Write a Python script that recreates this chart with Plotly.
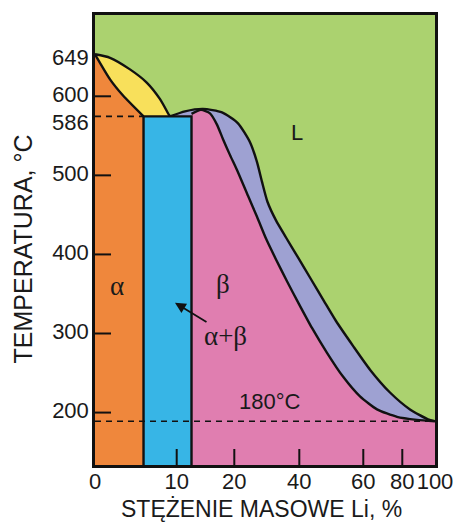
import numpy as np
import plotly.graph_objects as go

# ---- axis definitions (the diagram uses schematic, non-linear scales) ----
X_TICKS = [0, 10, 20, 40, 60, 80, 100]
X_TICK_LABELS = ["0", "10", "20", "40", "60", "80", "100"]
X_TICK_POS = [0, 24.03, 40.97, 60.09, 78.91, 90.38, 100]

Y_TICKS = [200, 300, 400, 500, 600]
Y_TICK_LABELS = ["200", "300", "400", "500", "600"]
Y_ANCHOR_T = [180, 200, 300, 400, 500, 586, 600, 649]
Y_ANCHOR_POS = [189, 200, 300, 400, 500, 574.6, 600, 653.1]
Y_RANGE = [133.7, 702.8]

# ---- characteristic temperatures (°C) ----
T_MG_MELT = 649
T_EUTECTIC = 586
T_TRANSFORM = 180

# ---- phase boundaries (mass % Li, °C) ----
alpha_limit = 5.94          # max solubility of Li in alpha
beta_limit = 12.57          # beta boundary at eutectic

alpha_solidus_x = [0, 1.84, 3.43, 5.94]
alpha_solidus_t = [649, 619.8, 600.9, 586]

alpha_liquidus_x = [0, 1.84, 4.28, 6.33, 7.96, 9.06, 9.18]
alpha_liquidus_t = [649, 644.9, 631.4, 616, 598, 587, 586]

beta_liquidus_x = [9.18, 11.44, 14.56, 17.86, 21.14, 24.83, 26.99, 28.53, 30.2, 32.83, 35.91,
                   39.60, 43.66, 47.72, 51.47, 56.78, 63.44, 73.69, 84.72, 95.72, 100]
beta_liquidus_t = [586, 589.5, 591.2, 588.8, 575.9, 548.4, 519.4, 491.7, 466.6, 443.0, 421.4,
                   396.2, 368.6, 341.0, 315.8, 284.4, 254.3, 225.4, 204.0, 184.5, 180]

beta_solidus_x = [12.57, 14.21, 15.78, 16.97, 18.04, 19.26, 20.83, 24.22, 26.99, 29.75, 32.83,
                  36.21, 39.91, 43.96, 48.66, 53.65, 58.97, 67.03, 77.28, 89.0, 100]
beta_solidus_t = [587.7, 590.5, 588.1, 574.4, 552.7, 529.5, 507.8, 474.1, 447.7, 420.1, 393.7,
                  366.1, 337.2, 307.0, 275.6, 245.5, 220.4, 204.0, 190.2, 183.3, 180]

# colours
C_L = "#abd26f"
C_ALPHA = "#ef873c"
C_ALPHA_L = "#f8e05b"
C_AB = "#37b5e6"
C_BETA = "#e07eb0"
C_BETA_L = "#9ea1d2"
C_LINE = "#111111"


def fx(v):
    return np.interp(np.asarray(v, dtype=float), X_TICKS, X_TICK_POS)


def fy(v):
    return np.interp(np.asarray(v, dtype=float), Y_ANCHOR_T, Y_ANCHOR_POS)


LW = 2.4
SPL = dict(color=C_LINE, width=LW, shape="spline", smoothing=0.6)
fig = go.Figure()

# beta + L (lavender) under the outer liquidus
fig.add_trace(go.Scatter(x=fx(beta_liquidus_x), y=fy(beta_liquidus_t), mode="lines",
                         line=SPL, fill="tozeroy", fillcolor=C_BETA_L, hoverinfo="skip"))
# alpha + L (yellow)
fig.add_trace(go.Scatter(x=fx(alpha_liquidus_x), y=fy(alpha_liquidus_t), mode="lines",
                         line=SPL, fill="tozeroy", fillcolor=C_ALPHA_L, hoverinfo="skip"))
# beta (pink)
fig.add_trace(go.Scatter(x=fx(beta_solidus_x), y=fy(beta_solidus_t), mode="lines",
                         line=SPL, fill="tozeroy", fillcolor=C_BETA, hoverinfo="skip"))
# alpha (orange)
fig.add_trace(go.Scatter(x=fx(alpha_solidus_x), y=fy(alpha_solidus_t), mode="lines",
                         line=SPL, fill="tozeroy", fillcolor=C_ALPHA, hoverinfo="skip"))
# alpha + beta (blue)
ybot = Y_RANGE[0] - 20
fig.add_trace(go.Scatter(x=fx([alpha_limit, alpha_limit, beta_limit, beta_limit]),
                         y=[ybot, float(fy(T_EUTECTIC)), float(fy(T_EUTECTIC)), ybot],
                         mode="lines", line=dict(color=C_LINE, width=LW),
                         fill="toself", fillcolor=C_AB, hoverinfo="skip"))
# dashed isotherms
fig.add_trace(go.Scatter(x=fx([0, alpha_limit]), y=fy([T_EUTECTIC, T_EUTECTIC]), mode="lines",
                         line=dict(color=C_LINE, width=1.6, dash="6px,5px"), hoverinfo="skip"))
fig.add_trace(go.Scatter(x=fx([0, 100]), y=fy([T_TRANSFORM, T_TRANSFORM]), mode="lines",
                         line=dict(color=C_LINE, width=1.6, dash="6px,5px"), hoverinfo="skip"))

SANS = "Liberation Sans, Arial, sans-serif"
SERIF = "Liberation Serif, Times New Roman, serif"
TXT = "#1a1a1a"

ann = []
# extra temperature labels on the y axis
ann.append(dict(x=0, xref="paper", xanchor="right", xshift=-4, y=float(fy(T_MG_MELT)), yref="y",
                yanchor="middle", yshift=-3, text=str(T_MG_MELT), showarrow=False,
                font=dict(family=SANS, size=22, color=TXT)))
ann.append(dict(x=0, xref="paper", xanchor="right", xshift=-4, y=float(fy(T_EUTECTIC)), yref="y",
                yanchor="middle", yshift=-6, text=str(T_EUTECTIC), showarrow=False,
                font=dict(family=SANS, size=22, color=TXT)))
# phase labels
ann.append(dict(x=float(fx(39.3)), y=float(fy(563)), text="L", showarrow=False,
                font=dict(family=SANS, size=22, color=TXT)))
ann.append(dict(x=float(fx(2.7)), y=float(fy(360)), text="α", showarrow=False,
                font=dict(family=SERIF, size=27, color=TXT)))
ann.append(dict(x=float(fx(18.0)), y=float(fy(362)), text="β", showarrow=False,
                font=dict(family=SERIF, size=27, color=TXT)))
ann.append(dict(x=float(fx(18.4)), y=float(fy(297)), text="α+β", showarrow=False,
                font=dict(family=SERIF, size=27, color=TXT)))
ann.append(dict(x=float(fx(9.79)), y=float(fy(338.8)), ax=33, ay=20, text="", showarrow=True,
                arrowhead=2, arrowsize=1.2, arrowwidth=1.8, arrowcolor=C_LINE))
ann.append(dict(x=float(fx(31)), y=float(fy(T_TRANSFORM)), yshift=20, text="180°C", showarrow=False,
                font=dict(family=SANS, size=22, color=TXT)))
# axis titles
ann.append(dict(x=0.491, xref="paper", y=-0.0975, yref="paper", xanchor="center", yanchor="middle",
                text="STĘŻENIE MASOWE Li, %", showarrow=False,
                font=dict(family=SANS, size=23, color=TXT)))
ann.append(dict(x=-0.212, xref="paper", y=0.481, yref="paper", xanchor="center", yanchor="middle",
                text="TEMPERATURA, °C", textangle=-90, showarrow=False,
                font=dict(family=SANS, size=25, color=TXT)))

# inside tick marks (drawn above the coloured phase fields)
shapes = []
for p in X_TICK_POS[1:-1]:
    shapes.append(dict(type="line", xref="x", x0=p, x1=p, yref="paper", ysizemode="pixel",
                       yanchor=0, y0=0, y1=16, line=dict(color=C_LINE, width=2), layer="above"))
for t in Y_TICKS:
    shapes.append(dict(type="line", yref="y", y0=t, y1=t, xref="paper", xsizemode="pixel",
                       xanchor=0, x0=0, x1=16, line=dict(color=C_LINE, width=2), layer="above"))

fig.update_layout(
    width=457, height=522,
    margin=dict(l=95, r=22, t=12, b=57),
    paper_bgcolor="white", plot_bgcolor=C_L,
    showlegend=False,
    annotations=ann,
    shapes=shapes,
    xaxis=dict(range=[0, 100], tickvals=X_TICK_POS, ticktext=X_TICK_LABELS,
               ticks="", showgrid=False, zeroline=False, showline=True, mirror=True,
               linecolor=C_LINE, linewidth=2.5, ticklabelstandoff=-5,
               tickfont=dict(family=SANS, size=22, color=TXT)),
    yaxis=dict(range=Y_RANGE, tickvals=Y_TICKS, ticktext=Y_TICK_LABELS,
               ticks="", showgrid=False, zeroline=False, showline=True, mirror=True,
               linecolor=C_LINE, linewidth=2.5, ticklabelstandoff=-1, ticklabelshift=-2,
               tickfont=dict(family=SANS, size=22, color=TXT)),
)

fig.write_html("out.html")
